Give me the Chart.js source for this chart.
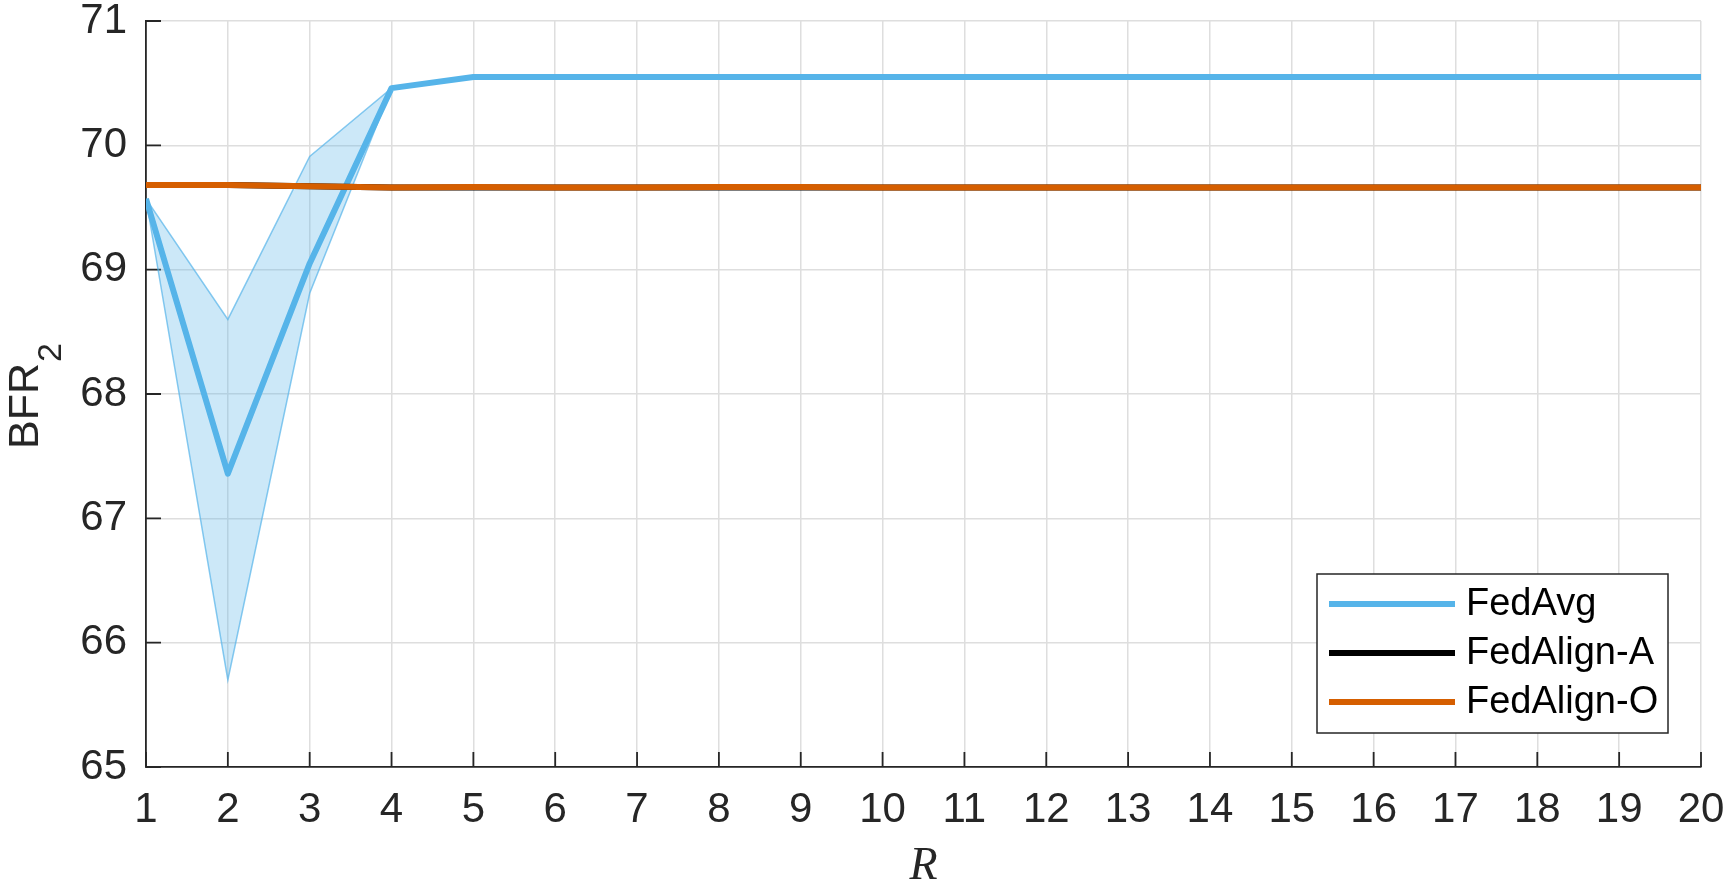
<!DOCTYPE html>
<html>
<head>
<meta charset="utf-8">
<script src="https://cdn.jsdelivr.net/npm/chart.js@4"></script>
<style>
html, body { margin: 0; padding: 0; background: #fff; }
</style>
</head>
<body>
<canvas id="chart" width="1730" height="886"></canvas>
<script>
// data
var rounds = [1, 2, 3, 4, 5, 6, 7, 8, 9, 10, 11, 12, 13, 14, 15, 16, 17, 18, 19, 20];
var fedAvg = [69.57, 67.36, 69.05, 70.46, 70.55, 70.55, 70.55, 70.55, 70.55, 70.55,
              70.55, 70.55, 70.55, 70.55, 70.55, 70.55, 70.55, 70.55, 70.55, 70.55];
var fedAvgUpper = [69.57, 68.60, 69.91, 70.46, 70.55, 70.55, 70.55, 70.55, 70.55, 70.55,
                   70.55, 70.55, 70.55, 70.55, 70.55, 70.55, 70.55, 70.55, 70.55, 70.55];
var fedAvgLower = [69.57, 65.70, 68.81, 70.46, 70.55, 70.55, 70.55, 70.55, 70.55, 70.55,
                   70.55, 70.55, 70.55, 70.55, 70.55, 70.55, 70.55, 70.55, 70.55, 70.55];
var fedAlignA = [69.68, 69.68, 69.67, 69.66, 69.66, 69.66, 69.66, 69.66, 69.66, 69.66,
                 69.66, 69.66, 69.66, 69.66, 69.66, 69.66, 69.66, 69.66, 69.66, 69.66];
var fedAlignO = [69.68, 69.68, 69.67, 69.66, 69.665, 69.66, 69.66, 69.665, 69.665, 69.66,
                 69.66, 69.66, 69.66, 69.66, 69.66, 69.66, 69.66, 69.66, 69.66, 69.66];
var xTicks = [1, 2, 3, 4, 5, 6, 7, 8, 9, 10, 11, 12, 13, 14, 15, 16, 17, 18, 19, 20];
var yTicks = [65, 66, 67, 68, 69, 70, 71];

var FONT = "'Liberation Sans', Arial, Helvetica, sans-serif";
var AXIS = '#262626';
var BLUE = '#56B4E9';
var ORANGE = '#D55E00';

function pts(ys) {
    return rounds.map(function (r, i) { return { x: r, y: ys[i] }; });
}

// MATLAB style inward tick marks
var innerTicks = {
    id: 'innerTicks',
    beforeDatasetsDraw: function (chart) {
        var ctx = chart.ctx, a = chart.chartArea;
        var xs = chart.scales.x, ys = chart.scales.y;
        ctx.save();
        ctx.strokeStyle = AXIS;
        ctx.lineWidth = 1.8;
        ctx.beginPath();
        xTicks.forEach(function (v) {
            var px = xs.getPixelForValue(v);
            ctx.moveTo(px, a.bottom);
            ctx.lineTo(px, a.bottom - 15);
        });
        yTicks.forEach(function (v) {
            var py = ys.getPixelForValue(v);
            ctx.moveTo(a.left, py);
            ctx.lineTo(a.left + 15, py);
        });
        ctx.stroke();
        ctx.restore();
    }
};

// axis titles and legend box
var decorations = {
    id: 'decorations',
    afterDatasetsDraw: function (chart) {
        var ctx = chart.ctx, a = chart.chartArea;
        ctx.save();

        // x title
        ctx.fillStyle = AXIS;
        ctx.font = "italic 46px 'Liberation Serif', 'DejaVu Serif', serif";
        ctx.textAlign = 'center';
        ctx.textBaseline = 'alphabetic';
        ctx.fillText('R', (a.left + a.right) / 2, 879);

        // y title BFR_2
        ctx.save();
        ctx.translate(38, 449);
        ctx.rotate(-Math.PI / 2);
        ctx.textAlign = 'left';
        ctx.font = '43px ' + FONT;
        ctx.fillText('BFR', 0, 0);
        var w = ctx.measureText('BFR').width;
        ctx.font = '34px ' + FONT;
        ctx.fillText('2', w + 1, 23);
        ctx.restore();

        // legend
        var bx = 1317, by = 574, bw = 351, bh = 159;
        ctx.fillStyle = '#fff';
        ctx.fillRect(bx, by, bw, bh);
        ctx.strokeStyle = AXIS;
        ctx.lineWidth = 1.5;
        ctx.strokeRect(bx, by, bw, bh);
        var items = chart.data.datasets.filter(function (d) { return d.inLegend; });
        items.sort(function (p, q) { return p.legendPos - q.legendPos; });
        ctx.font = '38px ' + FONT;
        ctx.textAlign = 'left';
        ctx.textBaseline = 'middle';
        items.forEach(function (d, i) {
            var cy = 604 + i * 49;
            ctx.strokeStyle = d.borderColor;
            ctx.lineWidth = 6;
            ctx.beginPath();
            ctx.moveTo(1329, cy);
            ctx.lineTo(1455, cy);
            ctx.stroke();
            ctx.fillStyle = '#000';
            ctx.fillText(d.label, 1466, cy + 1);
        });
        ctx.restore();
    }
};

var ctx = document.getElementById('chart').getContext('2d');
new Chart(ctx, {
    type: 'line',
    data: {
        datasets: [
            {
                label: 'FedAlign-O', data: pts(fedAlignO), borderColor: ORANGE,
                borderWidth: 6, pointRadius: 0, fill: false, order: 0,
                inLegend: true, legendPos: 2
            },
            {
                label: 'FedAlign-A', data: pts(fedAlignA), borderColor: '#000000',
                borderWidth: 6, pointRadius: 0, fill: false, order: 1,
                inLegend: true, legendPos: 1
            },
            {
                label: 'FedAvg', data: pts(fedAvg), borderColor: BLUE,
                borderWidth: 6, pointRadius: 0, fill: false, order: 2,
                borderJoinStyle: 'round', inLegend: true, legendPos: 0
            },
            {
                label: 'FedAvg upper', data: pts(fedAvgUpper), borderColor: 'rgba(86,180,233,0.7)',
                borderWidth: 1.5, pointRadius: 0, fill: false, order: 3
            },
            {
                label: 'FedAvg lower', data: pts(fedAvgLower), borderColor: 'rgba(86,180,233,0.7)',
                backgroundColor: 'rgba(86,180,233,0.3)',
                borderWidth: 1.5, pointRadius: 0, fill: '-1', order: 4
            }
        ]
    },
    options: {
        responsive: false,
        animation: false,
        devicePixelRatio: 1,
        layout: { padding: { top: 21, right: 29, left: 0, bottom: 0 } },
        elements: { line: { tension: 0 } },
        plugins: {
            legend: { display: false },
            tooltip: { enabled: false }
        },
        scales: {
            x: {
                type: 'linear',
                min: 1,
                max: 20,
                afterBuildTicks: function (s) { s.ticks = xTicks.map(function (v) { return { value: v }; }); },
                afterFit: function (s) {
                    s.height = 119;
                    s.paddingLeft = 0;
                    s.paddingRight = 0;
                },
                grid: { color: '#dedede', lineWidth: 1.5, drawTicks: false },
                border: { color: AXIS, width: 1.8 },
                ticks: {
                    font: { family: FONT, size: 42 }, color: AXIS, padding: 18,
                    maxRotation: 0, autoSkip: false
                }
            },
            y: {
                type: 'linear',
                min: 65,
                max: 71,
                afterBuildTicks: function (s) { s.ticks = yTicks.map(function (v) { return { value: v }; }); },
                afterFit: function (s) {
                    s.width = 146;
                    s.paddingTop = 0;
                    s.paddingBottom = 0;
                },
                grid: { color: '#dedede', lineWidth: 1.5, drawTicks: false },
                border: { color: AXIS, width: 1.8 },
                ticks: {
                    font: { family: FONT, size: 42 }, color: AXIS, padding: 19
                }
            }
        }
    },
    plugins: [innerTicks, decorations]
});
</script>
</body>
</html>
